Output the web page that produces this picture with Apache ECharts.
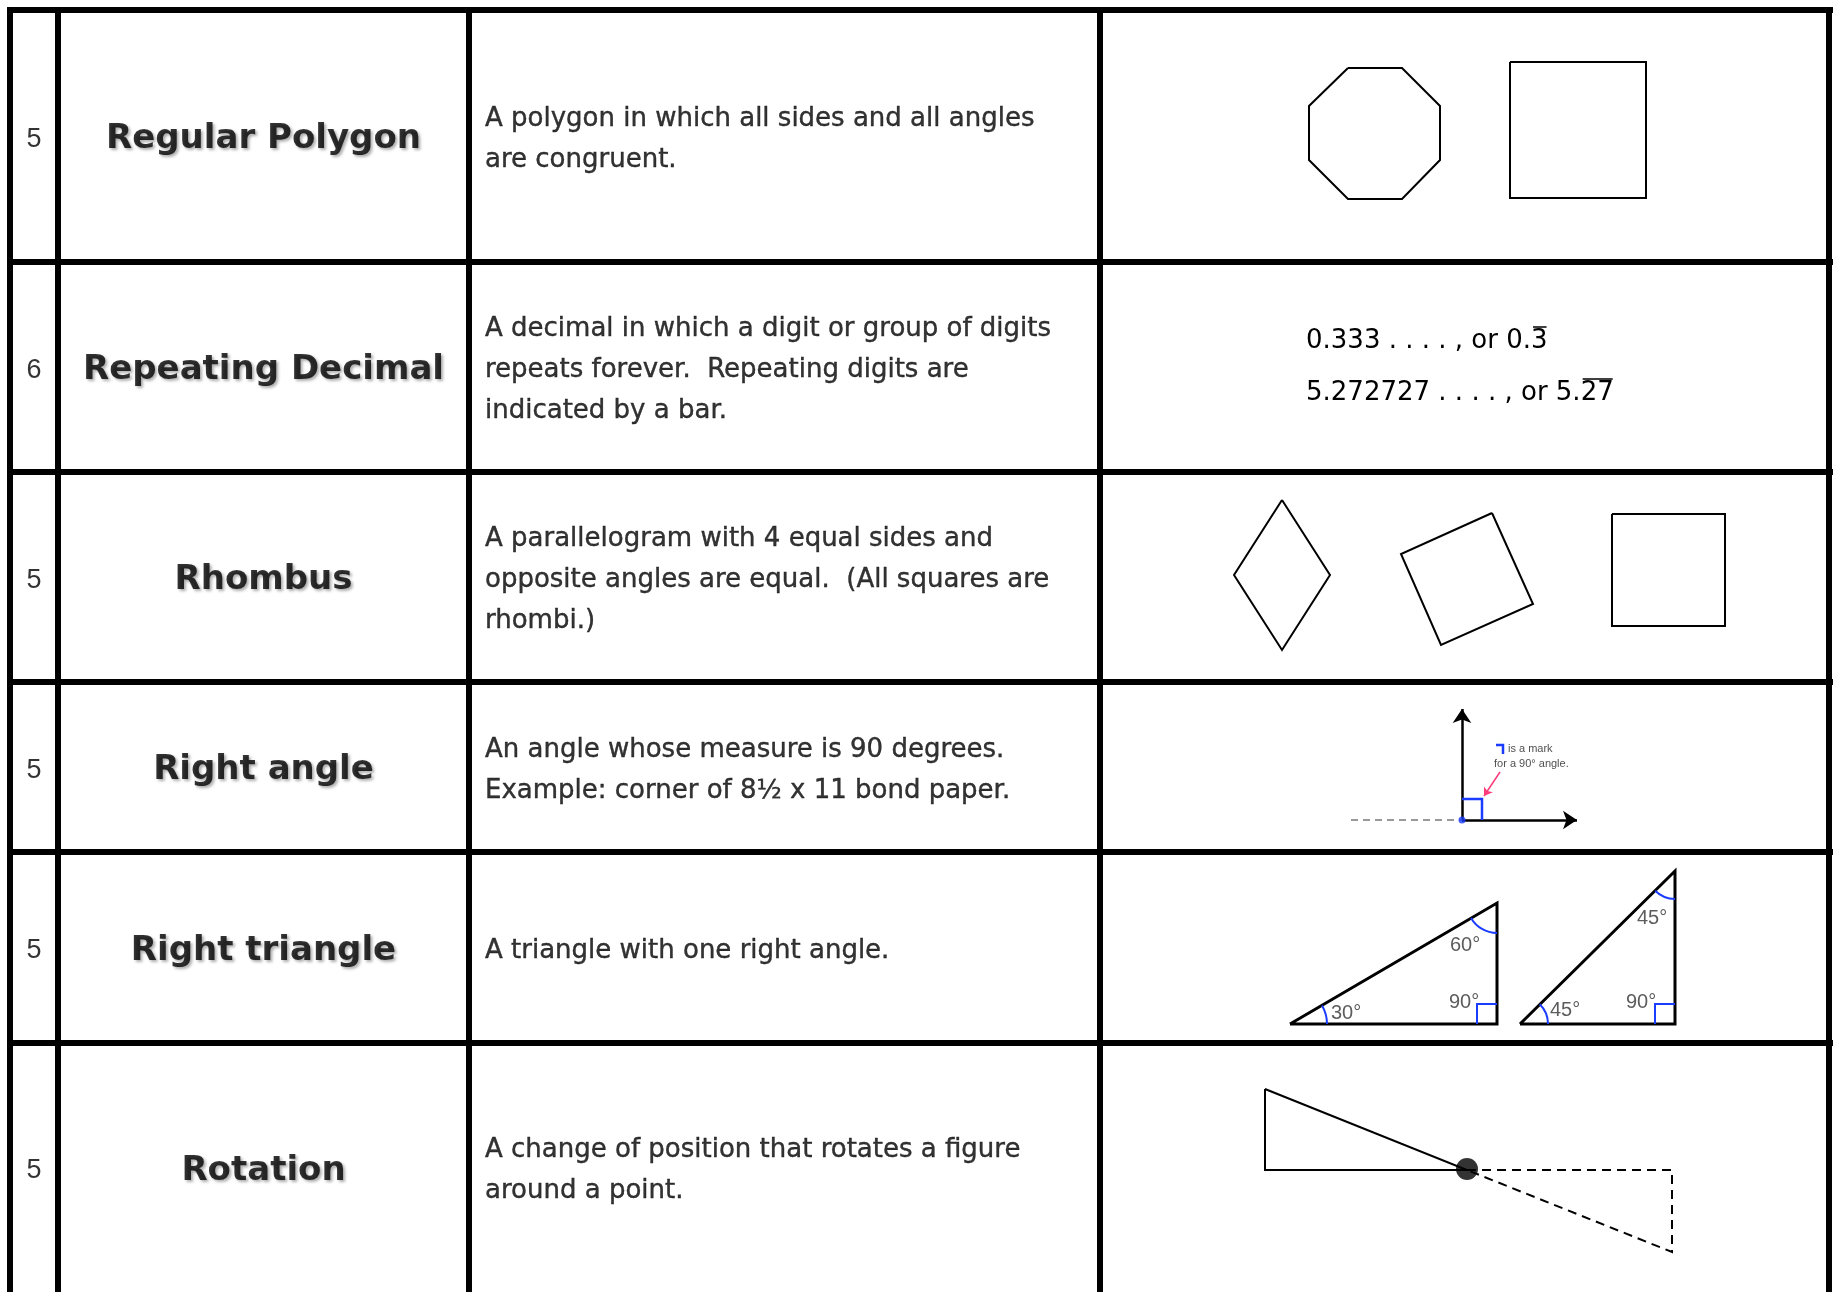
<!DOCTYPE html>
<html><head><meta charset="utf-8">
<script src="https://cdn.jsdelivr.net/npm/echarts@6/dist/echarts.min.js"></script>
<style>html,body{margin:0;padding:0;background:#fff}#c{width:1833px;height:1292px}</style>
</head><body><div id="c"></div>
<script>
// ---- table content ----
const rowNumbers = ['5', '6', '5', '5', '5', '5'];
const terms = ['Regular Polygon', 'Repeating Decimal', 'Rhombus', 'Right angle', 'Right triangle', 'Rotation'];
const descriptions = [
  'A polygon in which all sides and all angles\nare congruent.',
  'A decimal in which a digit or group of digits\nrepeats forever.  Repeating digits are\nindicated by a bar.',
  'A parallelogram with 4 equal sides and\nopposite angles are equal.  (All squares are\nrhombi.)',
  'An angle whose measure is 90 degrees.\nExample: corner of 8\u00BD x 11 bond paper.',
  'A triangle with one right angle.',
  'A change of position that rotates a figure\naround a point.'
];
// repeating decimal examples: [written-out part, repeating digits under the bar]
const decimalExamples = [['0.333 . . . . , or 0.', '3'], ['5.272727 . . . . , or 5.', '27']];
const decimalRows = [341, 393];

// ---- table frame ----
const colEdges = [10, 58, 469, 1100, 1829];
const rowEdges = [10, 262, 472, 682, 852, 1043, 1292];

// ---- example figures (vertex lists) ----
const octagon = [[1348,68],[1402,68],[1440,106],[1440,160],[1402,199],[1348,199],[1309,160],[1309,106]];
const squareA = [[1510,62],[1646,62],[1646,198],[1510,198]];
const rhombus = [[1282,500],[1330,575],[1282,650],[1234,575]];
const tiltedSquare = [[1492,513],[1533,604],[1441,645],[1401,554]];
const squareB = [[1612,514],[1725,514],[1725,626],[1612,626]];

const rayUp = [[1462,820],[1462,709]];
const rayRight = [[1462,820],[1577,820]];
const rayDashed = [[1351,820],[1462,820]];
const rightMark = [[1462,799],[1482,799],[1482,820]];
const legendMark = [[1496,745],[1503,745],[1503,754]];
const pinkPointer = [[1500,772],[1484,796]];
const noteLines = ['is a mark', 'for a 90\u00B0 angle.'];

const triangle3060 = [[1290,1024],[1497,903],[1497,1024]];
const triangle4545 = [[1520,1024],[1675,871],[1675,1024]];
const triRightMarks = [
  [[1477,1024],[1477,1004],[1497,1004]],
  [[1655,1024],[1655,1004],[1675,1004]]
];
// arcs: [cx, cy, r, startDeg, endDeg]
const angleArcs = [
  [1290,1024,37,-30,0],
  [1497,903,30,90,150],
  [1520,1024,28,-45,0],
  [1675,871,28,90,135]
];
// angle labels: [x, y, text]
const angleLabels = [
  [1331,1013,'30\u00B0'],[1450,945,'60\u00B0'],[1449,1002,'90\u00B0'],
  [1637,918,'45\u00B0'],[1550,1010,'45\u00B0'],[1626,1002,'90\u00B0']
];

const rotatedFrom = [[1265,1089],[1265,1170],[1467,1170]];
const rotatedTo = [[1467,1170],[1672,1170],[1672,1252]];
const pivot = [1467,1169];

// ---- helpers ----
const W = 1833, H = 1292;
const closed = pts => pts.concat([pts[0]]);
const rowMid = i => (rowEdges[i] + rowEdges[i + 1]) / 2 + 3.5;
const colMid = i => (colEdges[i] + colEdges[i + 1]) / 2;

const frameData = [];
colEdges.forEach(x => frameData.push({coords: [[x, rowEdges[0] - 3], [x, H]]}));
rowEdges.slice(0, 6).forEach(y => frameData.push({coords: [[colEdges[0] - 3, y], [W, y]]}));

function textSeries(items, label) {
  return {
    type: 'scatter', symbolSize: 0, silent: true, z: 5,
    data: items.map(d => ({value: [d[0], d[1]], name: d[2]})),
    label: Object.assign({show: true, formatter: p => p.name, color: '#000'}, label)
  };
}
function polySeries(shapes, style, extra) {
  return Object.assign({
    type: 'lines', coordinateSystem: 'cartesian2d', polyline: true, silent: true, z: 3,
    data: shapes.map(s => ({coords: s})),
    lineStyle: Object.assign({color: '#000', width: 2, opacity: 1}, style)
  }, extra || {});
}
function arrowSeries(segs, style, size) {
  return {
    type: 'lines', coordinateSystem: 'cartesian2d', polyline: false, silent: true, z: 3,
    symbol: ['none', 'arrow'], symbolSize: size,
    data: segs.map(s => ({coords: s})),
    lineStyle: Object.assign({color: '#000', width: 2, opacity: 1}, style)
  };
}

const decFont = '26px "DejaVu Sans"';
const measureCtx = document.createElement('canvas').getContext('2d');
function textWidth(t) { measureCtx.font = decFont; return measureCtx.measureText(t).width; }

const option = {
  animation: false,
  backgroundColor: '#fff',
  grid: {left: 0, right: 0, top: 0, bottom: 0},
  xAxis: {type: 'value', min: 0, max: W, show: false},
  yAxis: {type: 'value', min: 0, max: H, inverse: true, show: false},
  series: [
    // table frame
    {type: 'lines', coordinateSystem: 'cartesian2d', silent: true, z: 4,
     data: frameData, lineStyle: {color: '#000', width: 6, opacity: 1}},
    // row numbers
    textSeries(rowNumbers.map((t, i) => [colMid(0), rowMid(i), t]),
      {position: 'inside', fontFamily: 'Liberation Sans', fontSize: 27}),
    // terms
    textSeries(terms.map((t, i) => [colMid(1), rowMid(i), t]),
      {position: 'inside', fontFamily: 'DejaVu Sans', fontWeight: 'bold', fontSize: 34,
       textShadowColor: 'rgba(0,0,0,0.4)', textShadowBlur: 3, textShadowOffsetX: 2, textShadowOffsetY: 2}),
    // descriptions
    textSeries(descriptions.map((t, i) => [colEdges[2] + 16, rowMid(i), t]),
      {position: 'right', distance: 0, align: 'left', fontFamily: 'DejaVu Sans', fontSize: 26, lineHeight: 41,
       textBorderColor: '#000', textBorderWidth: 0.4}),
    // repeating decimals with bar over the repeating digits
    {type: 'custom', silent: true, z: 5,
     data: decimalExamples.map((d, i) => [colEdges[3] + 206, decimalRows[i], i]),
     renderItem: (params, api) => {
       const c = api.coord([api.value(0), api.value(1)]);
       const parts = decimalExamples[api.value(2)];
       const w0 = textWidth(parts[0]), w1 = textWidth(parts[1]);
       const barY = c[1] - 14;
       return {type: 'group', children: [
         {type: 'text', x: c[0], y: c[1], style: {text: parts[0] + parts[1], font: decFont,
           fill: '#000', verticalAlign: 'middle', align: 'left'}},
         {type: 'line', shape: {x1: c[0] + w0 + 2, y1: barY, x2: c[0] + w0 + w1 - 1, y2: barY},
           style: {stroke: '#000', lineWidth: 1.5}}
       ]};
     }},
    // polygons
    polySeries([octagon, squareA, rhombus, tiltedSquare, squareB].map(closed), {width: 2}),
    // right angle rays
    arrowSeries([rayUp, rayRight], {width: 2.5}, [0, 14]),
    polySeries([rayDashed], {width: 2, color: '#999', type: [7, 5]}),
    polySeries([rightMark, legendMark], {width: 2.5, color: '#1a3cff'}),
    arrowSeries([pinkPointer], {width: 1.5, color: '#ff3c7a'}, [0, 8]),
    {type: 'scatter', silent: true, z: 6, symbolSize: 7, itemStyle: {color: '#1a3cff'}, data: [rayUp[0]]},
    textSeries(noteLines.map((t, i) => [legendMark[0][0] + (i ? -2 : 12), 749 + i * 15, t]),
      {position: 'right', distance: 0, fontFamily: 'Liberation Sans', fontSize: 11, color: '#222'}),
    // right triangles
    polySeries([triangle3060, triangle4545].map(closed), {width: 3}),
    polySeries(triRightMarks, {width: 2, color: '#1a3cff'}),
    {type: 'custom', silent: true, z: 4, data: angleArcs,
     renderItem: (params, api) => {
       const c = api.coord([api.value(0), api.value(1)]);
       const r = api.size([api.value(2), 0])[0];
       return {type: 'arc', shape: {cx: c[0], cy: c[1], r: r,
         startAngle: api.value(3) * Math.PI / 180, endAngle: api.value(4) * Math.PI / 180, clockwise: true},
         style: {stroke: '#1a3cff', lineWidth: 2, fill: null}};
     }},
    textSeries(angleLabels, {position: 'right', distance: 0, fontFamily: 'Liberation Sans', fontSize: 20, color: '#333'}),
    // rotation
    polySeries([closed(rotatedFrom)], {width: 2}),
    polySeries([closed(rotatedTo)], {width: 2, type: [9, 6]}),
    {type: 'scatter', silent: true, z: 6, symbolSize: 22, itemStyle: {color: '#000'}, data: [pivot]}
  ]
};
echarts.init(document.getElementById('c')).setOption(option);
</script>
</body></html>
